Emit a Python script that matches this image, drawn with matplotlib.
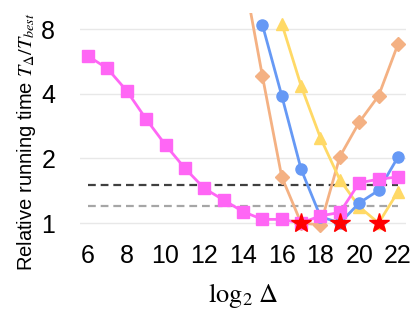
import matplotlib
matplotlib.use("Agg")
import matplotlib.pyplot as plt

plt.rcParams['font.family'] = ['Liberation Sans', 'DejaVu Sans']
plt.rcParams['mathtext.fontset'] = 'stix'

x_magenta = [6, 7, 8, 9, 10, 11, 12, 13, 14, 15, 16, 17, 18, 19, 20, 21, 22]
y_magenta = [6.0, 5.25, 4.13, 3.05, 2.31, 1.80, 1.45, 1.28, 1.13, 1.04, 1.04, 1.0, 1.08, 1.12, 1.54, 1.60, 1.64]

x_orange = [14, 15, 16, 17, 18, 19, 20, 21, 22]
y_orange = [15.0, 4.85, 1.64, 1.0, 0.98, 2.04, 2.95, 3.92, 6.82]

x_blue = [15, 16, 17, 18, 19, 20, 21, 22]
y_blue = [8.4, 3.92, 1.78, 1.07, 1.0, 1.24, 1.42, 2.03]

x_yellow = [16, 17, 18, 19, 20, 21, 22]
y_yellow = [8.5, 4.35, 2.49, 1.59, 1.19, 1.0, 1.40]

x_star = [17, 19, 21]
y_star = [1.0, 1.0, 1.0]

ref_black = 1.50
ref_gray = 1.20

xticks = [6, 8, 10, 12, 14, 16, 18, 20, 22]
yticks = [1, 2, 4, 8]

fig = plt.figure(figsize=(4.15, 3.12), dpi=100)
ax = fig.add_axes([0.1934, 0.2436, 0.7843, 0.714])
ax.set_yscale('log', base=2)
ax.set_xlim(5.6, 22.4)
ax.set_ylim(0.87, 9.5)

for yv in yticks:
    ax.axhline(yv, color='#e8e8e8', lw=1.0, zorder=0)

ax.plot([6, 22], [ref_black, ref_black], color='#404040', lw=1.6, ls=(0, (3.5, 2.2)), zorder=1)
ax.plot([6, 22], [ref_gray, ref_gray], color='#a6a6a6', lw=1.6, ls=(0, (3.5, 2.2)), zorder=1)

ax.plot(x_orange, y_orange, color='#F4B183', lw=2.0, marker='D', ms=7.5, zorder=2)
ax.plot(x_yellow, y_yellow, color='#FFD966', lw=2.0, marker='^', ms=8.5, zorder=3)
ax.plot(x_blue, y_blue, color='#6699F5', lw=2.0, marker='o', ms=8, zorder=4)
ax.plot(x_magenta, y_magenta, color='#FF66F5', lw=2.0, marker='s', ms=8.5, zorder=5)
ax.plot(x_star, y_star, ls='none', marker='*', color='#FF0000', ms=15, zorder=6)

ax.set_xticks(xticks)
ax.set_xticklabels([str(v) for v in xticks])
ax.set_yticks(yticks)
ax.set_yticklabels([str(v) for v in yticks])
ax.minorticks_off()
ax.tick_params(axis='both', length=0, labelsize=18)
ax.tick_params(axis='x', pad=6)
ax.tick_params(axis='y', pad=18)
for s in ax.spines.values():
    s.set_visible(False)

ax.set_xlabel(r'$\log_2\,\Delta$', fontsize=19, labelpad=9)
fig.text(0.065, 0.545, r'Relative running time $T_\Delta/T_{best}$', rotation=90,
         fontsize=14.5, ha='center', va='center')

fig.savefig('out.png', dpi=100)
